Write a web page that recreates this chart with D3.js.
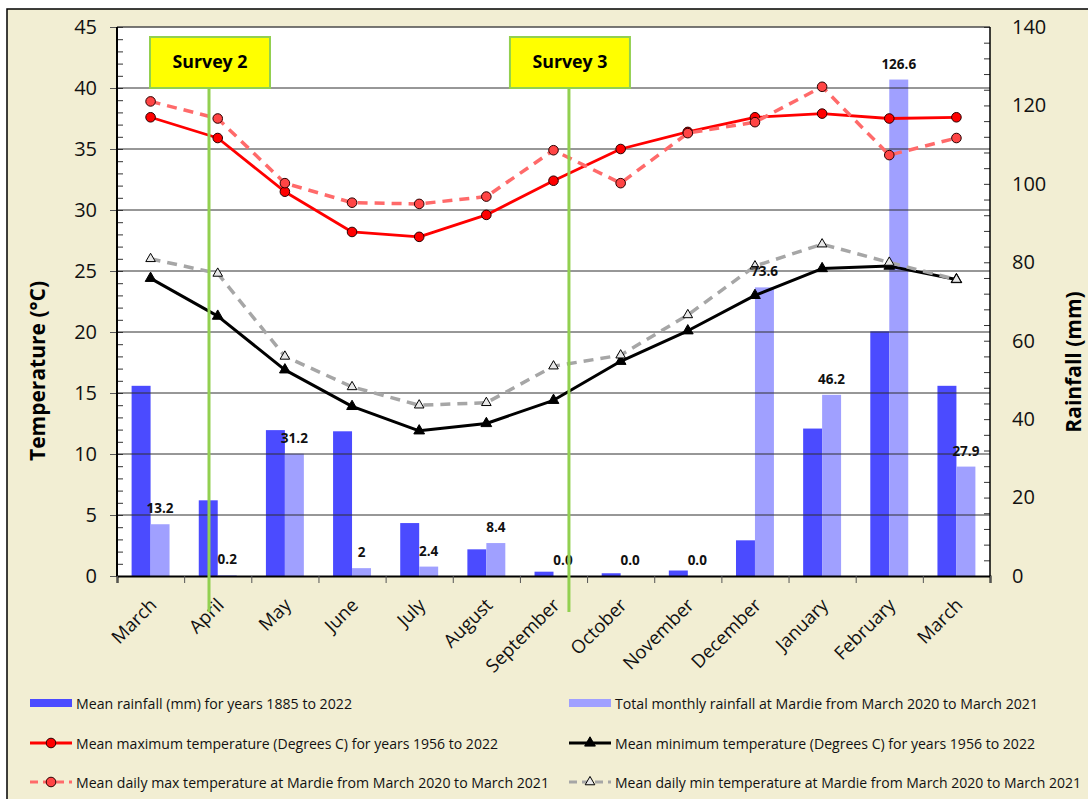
<!DOCTYPE html>
<html><head><meta charset="utf-8">
<script src="https://cdn.jsdelivr.net/npm/d3@7"></script>
<style>
html,body{margin:0;padding:0;background:#fff;}
svg{display:block;}
</style></head>
<body><svg id="chart" width="1088" height="799"></svg>
<script>
// ---------- data ----------
const months = ["March","April","May","June","July","August","September","October","November","December","January","February","March"];
const meanRain = [48.5,19.3,37.2,36.9,13.5,6.8,1.1,0.7,1.4,9.1,37.6,62.4,48.5];
const mardieRain = [13.2,0.2,31.2,2,2.4,8.4,0.0,0.0,0.0,73.6,46.2,126.6,27.9];
const mardieRainLabels = ["13.2","0.2","31.2","2","2.4","8.4","0.0","0.0","0.0","73.6","46.2","126.6","27.9"];
const meanMax = [37.6,35.9,31.5,28.2,27.8,29.6,32.4,35.0,36.4,37.6,37.9,37.5,37.6];
const mardieMax = [38.9,37.5,32.2,30.6,30.5,31.1,34.9,32.2,36.3,37.2,40.1,34.5,35.9];
const meanMin = [24.4,21.3,16.9,13.9,11.9,12.5,14.4,17.6,20.1,23.0,25.2,25.4,24.3];
const mardieMin = [26.0,24.8,18.0,15.5,14.0,14.2,17.2,18.1,21.4,25.4,27.2,25.7,24.3];
const tempTicks = [0,5,10,15,20,25,30,35,40,45];
const rainTicks = [0,20,40,60,80,100,120,140];
const surveys = [{label:"Survey 2", pos:0.87},{label:"Survey 3", pos:6.23}];
const legendItems = [
  "Mean rainfall (mm) for years 1885 to 2022",
  "Total monthly rainfall at Mardie from March 2020 to March 2021",
  "Mean maximum temperature (Degrees C) for years 1956 to 2022",
  "Mean minimum temperature (Degrees C) for years 1956 to 2022",
  "Mean daily max temperature at Mardie from March 2020 to March 2021",
  "Mean daily min temperature at Mardie from March 2020 to March 2021"
];

// ---------- layout ----------
const svg = d3.select("#chart");
const L = 117, R = 990, T = 27, B = 576;
const FONT = "'Open Sans', 'Noto Sans', sans-serif";
const C = {
  bg:"#F2EED3", dark:"#4B4BFF", light:"#A0A0FF",
  red:"#FF0000", redDash:"#FF6A6A", black:"#000000", grey:"#A6A6A6", green:"#92D050", grid:"#303030"
};

// outer frame
svg.append("rect").attr("x",7).attr("y",9).attr("width",1095).attr("height",800)
  .attr("fill",C.bg).attr("stroke","#000").attr("stroke-width",1.5);
svg.append("rect").attr("x",L).attr("y",T).attr("width",R-L).attr("height",B-T).attr("fill","#fff");

// scales
const idx = d3.range(months.length);
const x = d3.scaleBand().domain(idx).range([L,R]).padding(0);
const xs = d3.scaleBand().domain(["mean","mardie"]).range([0,x.bandwidth()]).paddingInner(0).paddingOuter(0.77);
const yT = d3.scaleLinear().domain([0,45]).range([B,T]);
const yR = d3.scaleLinear().domain([0,140]).range([B,T]);
const xPos = d3.scaleLinear().domain([0,12]).range([x(0)+x.bandwidth()/2, x(12)+x.bandwidth()/2]);

// bars
const g = svg.append("g");
g.selectAll("rect.mean").data(meanRain).join("rect")
  .attr("x",(d,i)=>x(i)+xs("mean")).attr("width",xs.bandwidth())
  .attr("y",d=>yR(d)).attr("height",d=>B-yR(d)).attr("fill",C.dark);
g.selectAll("rect.mardie").data(mardieRain).join("rect")
  .attr("x",(d,i)=>x(i)+xs("mardie")).attr("width",xs.bandwidth())
  .attr("y",d=>yR(d)).attr("height",d=>B-yR(d)).attr("fill",C.light);

// gridlines
svg.append("g").selectAll("line").data(tempTicks.filter(t=>t>0)).join("line")
  .attr("x1",L).attr("x2",R).attr("y1",d=>yT(d)).attr("y2",d=>yT(d))
  .attr("stroke",d=>d===45?"#808080":C.grid).attr("stroke-width",1);

// left axis
const axL = svg.append("g").attr("transform",`translate(${L},0)`)
  .call(d3.axisLeft(yT).tickValues(tempTicks).tickSize(7).tickPadding(13).tickFormat(d3.format("d")));
axL.select(".domain").remove();
axL.selectAll("line").attr("stroke","#555");
axL.selectAll("text").attr("font-family",FONT).attr("font-size",20).attr("fill","#111");
const axLm = svg.append("g").attr("transform",`translate(${L},0)`)
  .call(d3.axisRight(yT).tickValues(d3.range(0,46,1)).tickSize(6).tickFormat(""));
axLm.select(".domain").remove();
axLm.selectAll("line").attr("stroke","#333");

// right axis
const axR = svg.append("g").attr("transform",`translate(${R},0)`)
  .call(d3.axisRight(yR).tickValues(rainTicks).tickSize(0).tickPadding(22).tickFormat(d3.format("d")));
axR.select(".domain").remove();
axR.selectAll("text").attr("font-family",FONT).attr("font-size",20).attr("fill","#111");
const axRm = svg.append("g").attr("transform",`translate(${R},0)`)
  .call(d3.axisLeft(yR).tickValues(d3.range(0,141,4)).tickSize(6).tickFormat(""));
axRm.select(".domain").remove();
axRm.selectAll("line").attr("stroke","#333");

// plot border lines
svg.append("line").attr("x1",L).attr("x2",R).attr("y1",T).attr("y2",T).attr("stroke","#333").attr("stroke-width",1.2);
svg.append("line").attr("x1",L).attr("x2",L).attr("y1",T).attr("y2",B).attr("stroke","#000").attr("stroke-width",2);
svg.append("line").attr("x1",R).attr("x2",R).attr("y1",T).attr("y2",B).attr("stroke","#000").attr("stroke-width",1.5);

// x axis
const axX = svg.append("g").attr("transform",`translate(0,${B})`)
  .call(d3.axisBottom(d3.scaleLinear().domain([0,13]).range([L,R])).tickValues(d3.range(0,14)).tickSize(7).tickFormat(""));
axX.select(".domain").attr("stroke","#000").attr("stroke-width",2);
axX.selectAll("line").attr("stroke","#555");
svg.append("g").selectAll("text").data(months).join("text")
  .attr("transform",(d,i)=>`translate(${x(i)+x.bandwidth()/2-4},${B+19}) rotate(-45)`)
  .attr("text-anchor","end").attr("dominant-baseline","hanging")
  .attr("font-family",FONT).attr("font-size",18.5).attr("fill","#111").text(d=>d);

// axis titles
svg.append("text").attr("transform","translate(37,371) rotate(-90)")
  .attr("text-anchor","middle").attr("dominant-baseline","central")
  .attr("font-family",FONT).attr("font-weight","bold").attr("font-size",21).attr("fill","#000")
  .text("Temperature (°C)");
svg.append("text").attr("transform","translate(1073,362) rotate(-90)")
  .attr("text-anchor","middle").attr("dominant-baseline","central")
  .attr("font-family",FONT).attr("font-weight","bold").attr("font-size",21).attr("fill","#000")
  .text("Rainfall (mm)");

// lines
const cx = i => x(i)+x.bandwidth()/2;
const lineT = d3.line().x((d,i)=>cx(i)).y(d=>yT(d));
function drawSeries(data, color, width, dash, marker){
  svg.append("path").datum(data).attr("d",lineT).attr("fill","none")
    .attr("stroke",color).attr("stroke-width",width).attr("stroke-dasharray",dash)
    .attr("stroke-linejoin","round");
  const m = svg.append("g");
  data.forEach((d,i)=>marker(m, cx(i), yT(d)));
}
const circleRed = (fill)=> (g,px,py)=> g.append("circle").attr("cx",px).attr("cy",py).attr("r",4.8)
  .attr("fill",fill).attr("stroke","#2a0000").attr("stroke-width",1);
const triFilled = (g,px,py)=> g.append("path").attr("d",d3.symbol(d3.symbolTriangle,50)())
  .attr("transform",`translate(${px},${py})`).attr("fill","#000").attr("stroke","#000").attr("stroke-width",1);
const triOpen = (g,px,py)=> g.append("path").attr("d",d3.symbol(d3.symbolTriangle,40)())
  .attr("transform",`translate(${px},${py})`).attr("fill","#e8e8e8").attr("stroke","#000").attr("stroke-width",1);

drawSeries(meanMax, C.red, 2.8, null, circleRed("#FF0000"));
drawSeries(meanMin, C.black, 3, null, triFilled);
drawSeries(mardieMax, C.redDash, 3.5, "10,7", circleRed("#FF4545"));
drawSeries(mardieMin, C.grey, 3.5, "10,7", triOpen);

// bar labels
svg.append("g").selectAll("text").data(mardieRain).join("text")
  .attr("x",(d,i)=>x(i)+xs("mardie")+xs.bandwidth()/2)
  .attr("y",d=>yR(d)-16)
  .attr("text-anchor","middle").attr("dominant-baseline","central")
  .attr("font-family",FONT).attr("font-weight","bold").attr("font-size",13.5).attr("fill","#111")
  .text((d,i)=>mardieRainLabels[i]);

// surveys
surveys.forEach(s=>{
  const px = xPos(s.pos);
  svg.append("line").attr("x1",px).attr("x2",px).attr("y1",88).attr("y2",612)
    .attr("stroke",C.green).attr("stroke-width",3);
  svg.append("rect").attr("x",px-59).attr("y",37).attr("width",120).attr("height",51)
    .attr("fill","#FFFF00").attr("stroke",C.green).attr("stroke-width",2);
  svg.append("text").attr("x",px+1).attr("y",68).attr("text-anchor","middle")
    .attr("font-family",FONT).attr("font-weight","bold").attr("font-size",17).attr("fill","#000")
    .attr("textLength",75).attr("lengthAdjust","spacingAndGlyphs").text(s.label);
});

// legend
const legRows = [703,743,782];
const legCols = [30,569];
const textLens = [276,423,422,420,473,466];
const lg = svg.append("g");
legendItems.forEach((t,i)=>{
  const col = i%2, row = Math.floor(i/2);
  const sx = legCols[col], sy = legRows[row];
  if(row===0){
    lg.append("rect").attr("x",sx).attr("y",sy-4).attr("width",42).attr("height",8)
      .attr("fill", col===0?C.dark:C.light);
  } else {
    const color = row===1 ? (col===0?C.red:C.black) : (col===0?C.redDash:C.grey);
    const dash = row===2 ? "8,5" : null;
    lg.append("line").attr("x1",sx).attr("x2",sx+42).attr("y1",sy).attr("y2",sy)
      .attr("stroke",color).attr("stroke-width",3).attr("stroke-dasharray",dash);
    if(col===0) circleRed(row===1?"#FF0000":"#FF4545")(lg, sx+21, sy);
    else (row===1?triFilled:triOpen)(lg, sx+21, sy);
  }
  lg.append("text").attr("x",sx+46).attr("y",sy).attr("dominant-baseline","central")
    .attr("font-family",FONT).attr("font-size",14).attr("fill","#111")
    .attr("textLength",textLens[i]).attr("lengthAdjust","spacingAndGlyphs").text(t);
});
</script></body></html>
